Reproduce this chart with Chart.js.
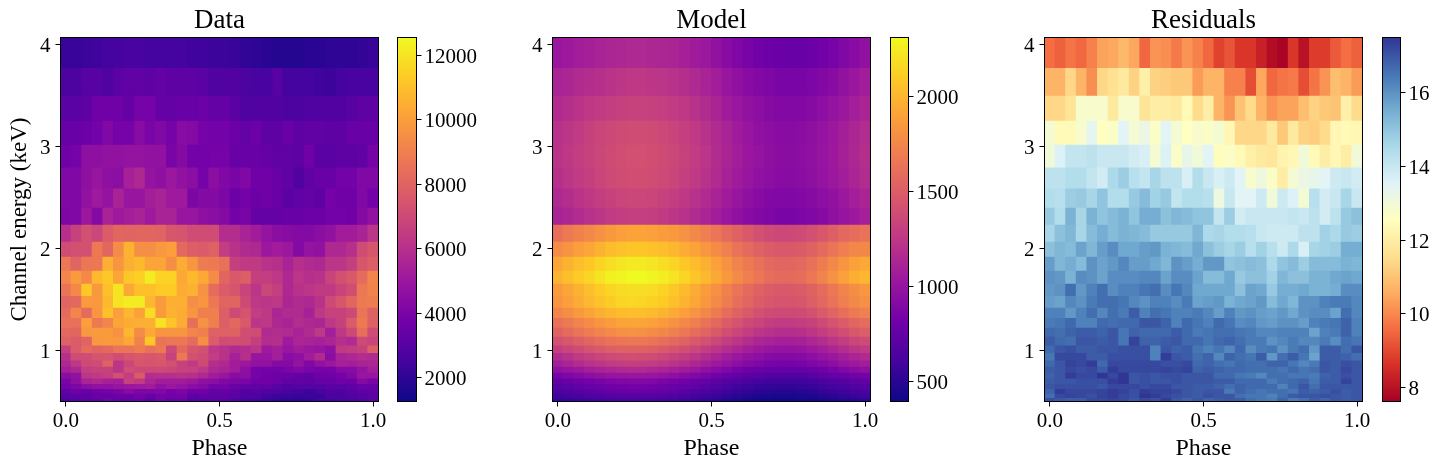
<!DOCTYPE html>
<html>
<head>
<meta charset="utf-8">
<title>Phase resolved spectrum</title>
<script src="https://cdn.jsdelivr.net/npm/chart.js@4/dist/chart.umd.min.js"></script>
<style>
  body { margin: 0; background: #fff; }
  canvas { position: absolute; top: 0; }
</style>
</head>
<body>
<script>
// Phase bins (centres) and channel energy bin edges in keV, from the top row down
const phases = [0, 0.0345, 0.069, 0.1034, 0.1379, 0.1724, 0.2069, 0.2414, 0.2759, 0.3103,
  0.3448, 0.3793, 0.4138, 0.4483, 0.4828, 0.5172, 0.5517, 0.5862, 0.6207, 0.6552,
  0.6897, 0.7241, 0.7586, 0.7931, 0.8276, 0.8621, 0.8966, 0.931, 0.9655, 1];
const energyEdges = [4.07, 3.775, 3.503, 3.258, 3.023, 2.8, 2.594, 2.405, 2.238, 2.072, 1.925, 1.787, 1.66, 1.539,
  1.425, 1.324, 1.228, 1.14, 1.055, 0.98, 0.908, 0.846, 0.787, 0.731, 0.676, 0.627, 0.581, 0.539, 0.5];

const phaseTicks = [0, 0.5, 1];
const energyTicks = [1, 2, 3, 4];
const dataBarTicks = [2000, 4000, 6000, 8000, 10000, 12000];
const modelBarTicks = [500, 1000, 1500, 2000];
const residualBarTicks = [8, 10, 12, 14, 16];

const dataCounts = [
  [2200,2200,2300,2400,2500,2500,2600,2600,2500,2500,2500,2500,2400,2400,2300,2300,2200,2100,2000,1900,1800,1800,1800,1900,1900,2000,2000,2000,2100,2200],
  [2700,2700,3000,3000,2800,3100,3300,3300,3200,3400,3200,3200,3200,3100,2800,2800,2900,2700,2600,2600,3000,2500,2500,2500,2400,2300,2500,2600,2600,2600],
  [3100,3100,3200,3700,3700,3700,3400,3900,3900,3400,3400,3500,3500,3600,3400,3400,3100,2800,2900,2900,2900,2700,2700,2800,2800,2900,2900,3000,3200,3200],
  [3500,3500,3600,3800,4200,3900,3900,4400,4000,4200,3900,4400,4300,3900,3800,3800,3600,3400,3600,3200,3200,3500,3200,3300,3300,3200,3200,3500,3500,3500],
  [3700,3900,4600,4600,4700,4700,4800,4800,4700,4700,4000,4300,3800,3800,3900,3900,3500,3500,3500,3400,3300,3300,3200,3700,3100,3100,3200,3200,3300,3900],
  [4200,4200,4600,4900,4600,4500,5400,5700,4800,4600,5000,4700,4500,3900,4500,4200,4000,4200,3700,3700,3500,3300,2900,3300,3500,3500,3800,3800,4200,4200],
  [4200,4200,4700,5100,4800,5500,4900,4900,5300,5500,5100,5100,4100,4300,4300,4100,3600,3800,3600,3700,3500,3100,3300,3400,3200,3900,3700,3700,4200,3800],
  [4100,4200,5000,4300,5500,5100,5300,5500,5100,5500,5500,4900,4900,4600,4500,4300,3800,4000,3400,3400,3400,3500,3500,3600,3600,3800,3800,3700,4300,4700],
  [6000,6700,7300,6900,7700,8100,8000,8100,8100,8000,7500,7400,7100,7100,7100,5900,5900,5500,5200,4800,4500,4400,4300,4300,4500,4700,5200,5200,5500,6200],
  [7100,7300,7300,8800,8100,9400,10600,9500,9500,9800,10000,8200,7800,7700,7900,6500,6100,5800,5700,5000,5200,5000,4300,4800,4700,5700,5700,6000,7100,7500],
  [8700,8000,8700,8700,10500,9700,10500,10800,10200,10200,9500,10400,9700,8900,8800,8500,6600,6400,6400,6100,6000,5500,6000,5800,5700,6200,6200,6600,7500,7800],
  [9200,9900,9300,10800,11200,10200,11200,11400,12200,11500,11500,10300,10800,10300,9400,8100,7600,7800,6600,6500,6300,5700,6200,6000,6100,6800,7300,7600,8300,9200],
  [8600,9300,11200,9800,11000,12000,10300,11000,11000,11300,11300,10400,10600,9600,8300,7700,7400,6800,6200,6900,6600,5700,6100,6200,6400,6400,6800,7200,8700,9100],
  [8000,8200,9900,9800,10800,12000,12200,12200,10700,9900,10500,10500,9500,9700,8700,8000,8000,7000,6300,6200,6300,5600,5800,5700,6100,7000,7500,8100,8800,8900],
  [8300,9200,8300,9700,11000,10000,10700,10100,11800,9900,10600,10400,9700,9000,9000,7800,7000,7400,6500,6300,5600,5800,5800,5400,6300,6700,6700,7000,8600,7900],
  [8500,8500,10000,8800,9200,10200,10400,10500,10500,12000,11100,10400,8400,9600,9000,7800,8200,7600,6200,6300,5700,5500,5900,5700,5600,6300,6700,7700,8800,7900],
  [8200,8100,9800,9900,9900,9600,10700,9400,10300,9700,9700,9700,9200,9000,7900,7900,7900,7200,7100,5800,5900,5800,5500,5800,6300,5300,6300,7000,8400,7100],
  [7900,7700,8000,9800,9900,9800,10300,9100,11200,8600,8700,8700,8300,9500,7700,7100,7200,7100,6600,5900,6000,5100,5600,5500,5400,5600,6000,5800,7000,6800],
  [6600,7700,8300,8000,8200,8600,8600,8900,8500,8700,7000,8200,7500,7300,6300,6100,5800,5900,6200,5100,5300,4900,5200,5000,4900,4600,6400,6500,6700,7800],
  [6000,7100,7100,7400,7400,7200,7500,7600,7500,7600,6700,8800,7300,7100,6500,6100,5400,6000,4900,4900,5300,4500,4600,5200,5800,4500,5500,5700,5900,5800],
  [5700,6300,7000,7100,7900,6200,6900,7500,7400,7500,7300,6700,6400,7000,5900,5700,5200,5000,4700,4700,4300,4300,4800,4200,4700,5000,5400,5300,5500,5600],
  [5300,5700,6600,6700,6700,6200,7200,7000,7000,7000,6900,6700,6700,6300,5700,5500,5200,4600,3900,3800,3800,4000,4200,4000,3900,3900,4300,4400,4800,5300],
  [4500,4700,6200,6400,6600,7300,6500,7700,5900,6000,6000,6100,6000,5700,5200,4900,4400,4500,3900,3700,3600,3600,3400,3300,3700,3700,3900,4200,4900,4900],
  [4000,4600,5500,5700,5400,5300,6700,6400,5600,5200,5200,5200,5000,4600,4500,4200,4100,4000,3700,3700,3600,3300,3300,3200,3400,3400,3700,3600,4300,4000],
  [3800,4100,4500,4700,4700,4900,5000,5100,5200,4700,5000,4800,4500,4300,3900,3900,3500,3400,3300,3300,3100,2900,3000,3000,3000,3100,3100,3200,3500,3500],
  [3300,3700,3500,3700,3800,4000,4400,4100,4100,4200,3900,4100,3700,3700,3400,3400,3200,2900,3000,2800,2800,2600,2500,2300,2500,2800,2700,3000,3200,3300],
  [3000,3200,3200,3500,3400,3700,3600,3900,3500,3900,3800,3900,3200,3400,3200,3200,3100,2800,2800,2500,2300,2300,2200,2300,2300,2700,2700,2900,3000,3100],
  [2800,3000,3200,3300,3700,3400,3400,3600,3200,3800,3400,3600,3000,3000,3200,3100,2800,2600,2500,2200,2100,2000,2000,2100,2400,2500,2600,2700,2800,3100]
];

const modelCounts = [
  [1020,1040,1070,1090,1110,1130,1140,1150,1150,1140,1130,1120,1090,1060,1030,980,930,880,850,820,790,780,770,770,790,820,850,890,930,970],
  [1110,1130,1160,1180,1200,1220,1240,1250,1250,1240,1230,1210,1190,1150,1110,1070,1010,970,930,900,880,860,860,860,870,900,930,980,1020,1070],
  [1160,1190,1220,1250,1270,1290,1310,1320,1320,1310,1300,1270,1250,1210,1170,1120,1060,1020,980,950,920,900,900,900,920,950,990,1030,1080,1120],
  [1210,1240,1270,1310,1340,1360,1380,1390,1390,1380,1360,1330,1300,1260,1210,1160,1110,1050,1010,970,950,930,930,940,960,990,1030,1080,1130,1170],
  [1220,1250,1290,1320,1350,1380,1400,1410,1410,1400,1380,1350,1320,1280,1230,1170,1120,1070,1020,990,960,940,940,950,970,1000,1040,1090,1140,1190],
  [1200,1230,1270,1300,1340,1370,1390,1400,1400,1390,1370,1340,1300,1260,1210,1160,1100,1050,1010,970,950,930,930,940,960,990,1030,1070,1120,1170],
  [1150,1180,1220,1250,1290,1320,1340,1350,1350,1340,1320,1290,1250,1210,1160,1110,1060,1010,960,930,900,890,890,900,920,950,980,1030,1080,1120],
  [1110,1140,1170,1210,1240,1270,1290,1300,1300,1290,1270,1240,1210,1170,1120,1070,1020,970,930,900,880,860,860,870,890,920,960,1000,1040,1090],
  [1610,1670,1720,1760,1800,1850,1880,1900,1900,1890,1870,1850,1810,1760,1700,1650,1580,1520,1470,1420,1380,1360,1360,1380,1410,1460,1510,1570,1600,1630],
  [1780,1820,1880,1920,1980,2030,2060,2080,2080,2060,2040,2000,1950,1900,1840,1780,1710,1630,1580,1530,1490,1470,1470,1490,1530,1580,1640,1700,1750,1750],
  [1920,1980,2040,2090,2140,2190,2220,2240,2240,2220,2190,2150,2090,2030,1970,1890,1810,1730,1670,1620,1570,1550,1550,1570,1620,1690,1760,1830,1890,1930],
  [1990,2040,2100,2150,2210,2270,2290,2310,2310,2290,2260,2210,2150,2080,2010,1930,1850,1770,1700,1650,1600,1580,1580,1600,1660,1730,1810,1890,1960,2000],
  [1860,1910,1980,2040,2100,2150,2180,2190,2190,2170,2140,2090,2020,1950,1870,1800,1720,1640,1580,1530,1490,1470,1470,1490,1530,1590,1660,1730,1790,1840],
  [1830,1880,1950,2010,2060,2110,2150,2160,2150,2130,2100,2050,1990,1920,1840,1770,1690,1610,1550,1490,1460,1440,1440,1450,1500,1560,1630,1700,1760,1800],
  [1740,1790,1850,1900,1960,2000,2030,2040,2040,2020,1990,1940,1880,1820,1750,1680,1600,1530,1470,1420,1380,1370,1370,1380,1420,1480,1540,1610,1670,1710],
  [1620,1670,1730,1780,1830,1870,1900,1910,1910,1890,1860,1810,1760,1700,1630,1570,1490,1430,1370,1330,1290,1270,1270,1290,1320,1370,1430,1490,1550,1590],
  [1530,1580,1640,1690,1730,1770,1800,1810,1800,1780,1750,1710,1660,1600,1540,1470,1400,1340,1290,1240,1210,1190,1190,1200,1240,1290,1340,1400,1460,1500],
  [1410,1450,1510,1550,1600,1630,1650,1660,1660,1640,1610,1570,1520,1470,1410,1350,1290,1230,1180,1130,1110,1090,1090,1100,1140,1180,1230,1290,1340,1380],
  [1290,1340,1380,1430,1470,1500,1520,1530,1530,1510,1480,1440,1400,1350,1290,1240,1180,1130,1080,1040,1010,990,990,1000,1040,1080,1130,1180,1230,1270],
  [1170,1210,1260,1300,1340,1370,1390,1400,1390,1380,1350,1320,1280,1230,1180,1130,1070,1020,980,950,920,910,910,920,950,990,1030,1080,1120,1160],
  [1080,1120,1170,1210,1240,1270,1290,1300,1290,1280,1250,1220,1190,1140,1090,1040,990,950,910,880,850,840,840,850,880,910,950,1000,1040,1070],
  [970,1000,1040,1080,1110,1130,1150,1160,1160,1140,1120,1090,1060,1020,970,930,880,840,810,780,760,750,750,760,780,810,850,890,930,960],
  [850,880,920,950,980,1000,1010,1020,1020,1010,990,960,930,890,860,820,780,740,710,690,670,660,660,670,690,720,750,780,820,840],
  [740,770,800,820,850,870,880,890,890,880,860,840,810,780,750,710,680,650,620,600,590,580,580,590,600,630,650,680,710,730],
  [690,710,740,770,790,810,820,830,830,820,800,780,760,730,700,660,630,600,570,550,540,530,530,540,550,580,610,630,660,680],
  [640,660,690,710,730,750,760,770,770,760,750,730,700,670,640,610,580,550,530,510,490,490,490,490,510,530,560,590,610,630],
  [590,610,630,650,670,680,690,700,700,690,680,660,640,610,590,560,530,510,480,460,450,440,440,450,460,490,510,530,560,580],
  [540,550,570,590,600,620,630,630,630,620,610,600,580,560,530,510,480,450,430,410,400,400,400,410,420,440,460,480,500,520]
];

const residuals = [
  [9.6,9.4,9.7,9.5,9.9,10.4,10.5,10.8,10.5,9.5,10.2,10.1,9.8,10.2,9.9,9.5,8.9,9.2,8.7,8.7,8.3,7.9,7.7,8.7,8.0,8.8,8.8,9.3,9.6,9.4],
  [10.7,10.7,11.4,10.7,10.1,11.4,11.6,11.9,11.3,12.1,11.3,11.2,11.1,11.1,10.3,10.7,10.7,9.9,9.9,9.1,10.5,9.5,9.7,9.8,9.1,9.7,10.2,10.9,10.7,10.3],
  [11.4,11.4,11.7,12.8,12.8,12.8,11.9,12.8,12.8,11.7,12.0,12.0,11.9,12.4,11.5,12.0,10.7,10.2,11.0,11.5,10.7,10.2,10.4,10.4,10.9,11.3,11.1,11.0,12.1,11.5],
  [12.9,12.4,12.4,12.8,13.4,12.6,12.7,13.5,12.9,13.2,12.7,13.5,12.9,12.6,12.8,12.7,12.9,12.3,11.4,11.4,11.4,11.9,11.1,11.9,11.3,11.2,11.5,12.3,12.4,12.3],
  [13.0,13.6,14.1,14.1,14.2,14.0,14.0,14.0,13.8,13.7,12.9,13.6,12.7,13.3,13.0,13.5,12.5,12.7,12.4,12.1,11.9,11.8,12.2,12.3,13.0,12.4,12.0,12.3,12.0,13.0],
  [14.2,14.2,14.4,14.4,14.1,13.8,14.5,14.8,14.3,14.1,14.6,14.2,14.2,13.7,14.4,14.0,13.7,13.9,13.5,12.8,13.1,12.7,12.0,12.9,13.2,13.3,13.5,13.9,14.0,13.8],
  [14.4,14.3,14.8,14.9,14.6,15.0,14.4,14.4,14.9,15.2,14.7,14.9,14.1,14.4,14.4,14.3,13.1,14.0,13.5,13.5,13.9,13.0,13.9,13.6,12.9,14.3,13.8,14.0,14.6,14.0],
  [14.9,14.4,15.4,14.6,15.4,15.0,15.2,15.4,15.0,15.5,15.5,15.1,15.3,15.2,15.0,15.0,14.1,14.8,13.8,14.0,14.0,14.0,14.0,14.1,14.0,14.2,13.8,14.2,14.9,15.1],
  [14.6,15.1,15.3,14.6,15.2,15.5,15.2,15.4,15.3,15.2,14.9,14.9,14.9,14.9,15.3,14.5,14.6,14.4,14.4,14.3,14.0,13.9,13.9,13.9,14.2,14.2,14.7,14.5,14.9,14.8],
  [15.1,15.3,15.2,15.7,15.3,15.8,16.1,15.6,15.6,15.8,15.9,15.4,15.3,15.2,15.6,15.1,14.8,14.6,14.8,14.3,14.7,14.3,13.9,14.5,13.7,14.6,14.7,14.8,15.5,15.5],
  [15.8,15.3,15.5,15.2,16.0,15.7,15.9,16.2,15.8,15.8,15.6,15.3,16.0,15.8,15.5,15.9,15.9,15.0,15.1,15.2,15.1,14.5,15.0,15.2,14.8,15.2,15.2,15.2,15.4,15.3],
  [16.0,15.9,15.4,16.1,16.0,15.7,16.1,16.1,16.1,16.2,16.2,15.7,16.1,16.1,15.7,15.2,15.2,15.6,14.9,15.1,15.1,14.7,15.3,15.1,15.1,15.4,15.4,15.6,15.7,15.6],
  [15.9,16.0,16.6,15.9,16.3,16.6,16.1,16.3,16.3,16.5,16.6,16.1,16.5,16.2,15.6,15.6,15.6,15.6,15.1,15.7,15.6,14.9,15.5,15.5,15.6,15.4,15.4,15.5,16.1,16.1],
  [15.8,15.7,16.2,16.0,16.4,16.6,16.6,16.5,16.2,16.0,16.3,16.3,16.1,16.4,15.7,15.8,15.9,15.4,15.6,15.7,15.9,15.2,15.6,15.3,16.0,16.0,16.3,16.4,16.4,16.2],
  [16.3,16.3,15.9,16.3,16.6,16.2,16.6,16.4,16.9,16.3,16.6,16.5,16.3,16.3,16.4,16.2,15.8,16.3,15.9,16.0,15.8,15.7,15.9,15.6,16.0,16.1,16.1,15.7,16.6,16.2],
  [16.4,16.5,16.7,16.3,16.3,16.7,16.6,16.7,16.7,17.0,17.0,16.8,16.3,16.7,16.5,16.3,16.7,16.5,16.1,16.2,15.9,15.8,16.0,16.0,15.8,16.3,16.4,16.5,16.8,16.3],
  [16.7,16.6,16.8,16.9,16.9,16.8,17.0,16.5,16.8,16.7,16.7,16.7,16.9,16.7,16.4,16.5,16.6,16.6,16.5,16.4,16.2,16.2,16.3,16.3,16.3,15.7,16.3,16.4,16.8,16.3],
  [16.9,16.7,16.6,17.0,17.0,16.9,17.0,16.5,17.3,16.8,16.8,16.9,17.0,16.7,16.7,16.5,16.7,16.8,16.6,16.4,16.4,16.0,16.2,16.4,16.2,16.2,16.4,16.1,16.6,16.5],
  [16.7,17.0,17.1,16.9,16.9,17.0,17.0,17.1,17.1,17.1,16.3,17.0,16.8,16.9,16.5,16.3,16.5,16.2,16.7,16.1,16.4,16.5,16.0,16.4,16.6,15.9,16.9,16.9,16.6,17.0],
  [16.5,17.2,17.2,17.2,16.9,16.9,17.1,17.1,17.1,17.1,16.3,17.4,17.0,16.9,16.6,16.8,16.2,16.8,16.6,16.5,16.9,15.9,16.6,16.9,16.5,15.7,16.9,16.9,16.8,16.6],
  [16.7,17.0,17.3,17.2,17.4,16.7,17.2,17.2,17.2,17.2,17.2,17.1,17.1,17.2,16.7,16.8,16.6,16.5,16.7,16.6,16.6,16.8,16.8,16.5,16.2,16.4,17.0,16.9,17.1,17.0],
  [16.9,17.0,17.2,17.1,17.2,16.9,17.4,17.2,17.2,17.2,17.2,17.3,17.2,17.3,16.8,16.9,16.8,16.7,16.7,16.6,16.6,16.6,16.5,16.7,16.5,16.6,17.0,16.9,17.2,17.0],
  [16.8,17.0,17.4,17.2,17.2,17.5,17.2,17.5,17.0,17.1,17.0,17.1,17.1,17.0,17.0,17.0,16.7,16.7,16.5,16.4,16.2,16.6,16.6,16.5,16.5,16.4,16.8,16.9,17.1,17.0],
  [16.9,17.0,17.0,17.1,17.1,17.1,17.4,17.5,17.0,17.1,17.0,17.0,17.1,17.0,17.0,17.0,16.9,16.9,16.7,16.7,16.7,16.4,16.6,16.7,16.8,16.5,16.9,16.9,17.3,17.0],
  [17.0,17.1,17.1,17.1,17.1,17.0,17.2,17.2,17.2,17.1,17.2,17.2,17.0,17.0,16.9,16.9,16.8,16.6,16.8,16.7,16.7,16.7,16.3,16.7,17.0,16.6,17.0,17.0,17.0,17.0],
  [16.8,17.4,17.2,17.2,17.2,17.3,17.4,17.3,17.1,17.4,17.3,17.3,17.2,17.0,16.9,17.0,17.0,16.4,16.8,16.6,16.5,16.6,16.6,16.5,16.9,16.8,16.9,17.1,16.9,17.0],
  [16.6,17.2,17.3,17.2,17.1,17.3,17.4,17.2,17.1,17.5,17.4,17.2,17.1,17.0,16.9,17.1,17.0,17.0,16.6,16.5,16.5,16.3,16.6,16.9,17.0,17.0,17.1,17.0,16.9,17.0],
  [17.1,17.0,16.9,16.9,17.2,17.2,17.3,17.2,17.0,17.2,17.1,17.4,17.0,16.8,17.0,16.8,16.9,17.0,16.9,16.6,16.5,16.4,16.8,16.4,16.6,16.9,16.8,17.0,16.9,17.0]
];

// Colour maps as evenly spaced stops
const plasma = ['#0d0887', '#46039f', '#7201a8', '#9c179e', '#bd3786', '#d8576b', '#ed7953', '#fb9f3a', '#fdca26', '#f0f921'];
const rdYlBu = ['#a50026', '#d73027', '#f46d43', '#fdae61', '#fee090', '#ffffbf', '#e0f3f8', '#abd9e9', '#74add1', '#4575b4', '#313695'];

const serif = 'Liberation Serif';
const frameBox = {
  id: 'frameBox',
  afterDatasetsDraw(chart) {
    const { ctx, chartArea: a } = chart;
    ctx.save();
    ctx.strokeStyle = '#000';
    ctx.lineWidth = 1;
    ctx.strokeRect(a.left, a.top, a.right - a.left, a.bottom - a.top);
    ctx.restore();
  }
};

function hexToRgb(hex) {
  return [1, 3, 5].map(i => parseInt(hex.slice(i, i + 2), 16));
}

function colourFor(stops, value, min, max) {
  const t = Math.min(1, Math.max(0, (value - min) / (max - min))) * (stops.length - 1);
  const i = Math.min(Math.floor(t), stops.length - 2);
  const a = hexToRgb(stops[i]), b = hexToRgb(stops[i + 1]);
  const c = a.map((v, k) => Math.round(v + (b[k] - v) * (t - i)));
  return `rgb(${c[0]},${c[1]},${c[2]})`;
}

function addCanvas(left, width) {
  const canvas = document.createElement('canvas');
  canvas.width = width;
  canvas.height = 468;
  canvas.style.left = left + 'px';
  document.body.appendChild(canvas);
  return canvas;
}

function tickStyle() {
  return {
    border: { display: false },
    grid: { offset: false, drawOnChartArea: false, drawTicks: true, tickLength: 5, tickColor: '#000', tickWidth: 1 }
  };
}

// One heat map panel: every row of the grid is a dataset of floating bars
function drawPanel(left, title, matrix, stops, vmin, vmax, showEnergyLabel) {
  const datasets = matrix.map((row, i) => ({
    data: row.map((v, j) => ({ x: phases[j], y: [energyEdges[i + 1], energyEdges[i]] })),
    backgroundColor: row.map(v => colourFor(stops, v, vmin, vmax)),
    borderWidth: 0,
    inflateAmount: 0.5,
    barPercentage: 1,
    categoryPercentage: 1,
    grouped: false
  }));

  new Chart(addCanvas(left, 398), {
    type: 'bar',
    data: { datasets },
    options: {
      responsive: false,
      animation: false,
      events: [],
      layout: { padding: { right: 19.5 } },
      plugins: {
        legend: { display: false },
        tooltip: { enabled: false },
        title: {
          display: true,
          text: title,
          fullSize: false,
          color: '#000',
          font: { family: serif, size: 27, weight: 'normal', lineHeight: 1.2 },
          padding: { top: 4.3, bottom: 0.8 }
        }
      },
      scales: {
        x: {
          type: 'linear',
          offset: false,
          min: -0.5 / 29,
          max: 1 + 0.5 / 29,
          ...tickStyle(),
          afterBuildTicks: scale => { scale.ticks = phaseTicks.map(value => ({ value })); },
          afterFit: scale => { scale.height = 66.5; },
          ticks: {
            color: '#000',
            padding: 2,
            maxRotation: 0,
            font: { family: serif, size: 21 },
            callback: v => v.toFixed(1)
          },
          title: {
            display: true,
            text: 'Phase',
            color: '#000',
            font: { family: serif, size: 24 },
            padding: { top: 0, bottom: 5 }
          }
        },
        y: {
          type: 'linear',
          min: 0.5,
          max: 4.07,
          ...tickStyle(),
          afterBuildTicks: scale => { scale.ticks = energyTicks.map(value => ({ value })); },
          afterFit: scale => { scale.width = 60.5; },
          ticks: { color: '#000', padding: 5, labelOffset: 1.5, font: { family: serif, size: 21 } },
          title: {
            display: showEnergyLabel,
            text: 'Channel energy (keV)',
            color: '#000',
            font: { family: serif, size: 23 },
            padding: { top: 6, bottom: 0 }
          }
        }
      }
    },
    plugins: [frameBox]
  });
}

// Colour bar: a single floating bar from min to max, filled with the map as a gradient
function drawColourBar(left, barWidth, stops, vmin, vmax, barTicks) {
  new Chart(addCanvas(left, 90), {
    type: 'bar',
    data: {
      labels: [''],
      datasets: [{
        data: [[vmin, vmax]],
        borderWidth: 0,
        barPercentage: 1,
        categoryPercentage: 1,
        backgroundColor: c => {
          const a = c.chart.chartArea;
          if (!a) return stops[0];
          const g = c.chart.ctx.createLinearGradient(0, a.bottom, 0, a.top);
          stops.forEach((s, i) => g.addColorStop(i / (stops.length - 1), s));
          return g;
        }
      }]
    },
    options: {
      responsive: false,
      animation: false,
      events: [],
      layout: { padding: { left: 0.5, top: 37.5, bottom: 66.5, right: 90 - 0.5 - barWidth - 68 } },
      plugins: { legend: { display: false }, tooltip: { enabled: false } },
      scales: {
        x: { display: false },
        y: {
          position: 'right',
          min: vmin,
          max: vmax,
          ...tickStyle(),
          afterBuildTicks: scale => { scale.ticks = barTicks.map(value => ({ value })); },
          afterFit: scale => { scale.width = 68; },
          ticks: { color: '#000', padding: 3, labelOffset: 2, font: { family: serif, size: 21 }, callback: v => String(v) }
        }
      }
    },
    plugins: [frameBox]
  });
}

drawPanel(0, 'Data', dataCounts, plasma, 1262, 12552, true);
drawColourBar(397, 19, plasma, 1262, 12552, dataBarTicks);
drawPanel(492, 'Model', modelCounts, plasma, 393, 2312, false);
drawColourBar(890, 18, plasma, 393, 2312, modelBarTicks);
drawPanel(984, 'Residuals', residuals, rdYlBu, 7.625, 17.5, false);
drawColourBar(1382, 18, rdYlBu, 7.625, 17.5, residualBarTicks);
</script>
</body>
</html>
